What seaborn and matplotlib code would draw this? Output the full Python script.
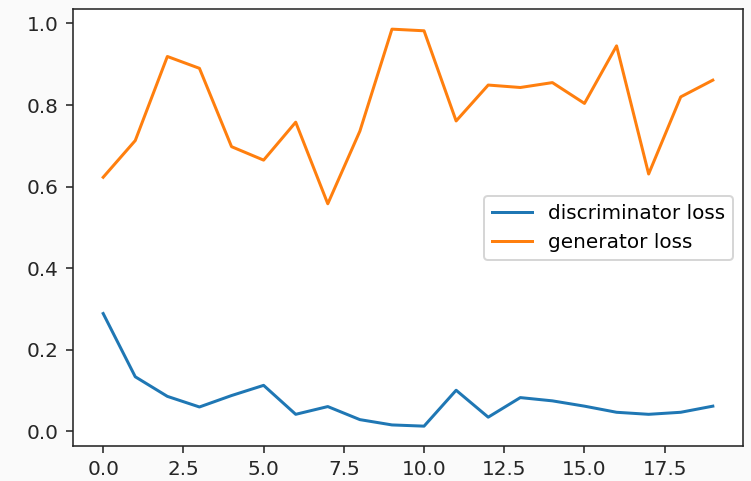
import numpy as np
import pandas as pd
import matplotlib
matplotlib.use("Agg")
import matplotlib.pyplot as plt
import seaborn as sns

epochs = list(range(20))
discriminator_loss = [0.289, 0.134, 0.086, 0.060, 0.088, 0.113, 0.042, 0.061, 0.029, 0.016,
                      0.013, 0.101, 0.035, 0.083, 0.075, 0.062, 0.047, 0.042, 0.047, 0.062]
generator_loss = [0.623, 0.713, 0.919, 0.890, 0.698, 0.665, 0.758, 0.558, 0.736, 0.986,
                  0.982, 0.761, 0.849, 0.843, 0.855, 0.804, 0.945, 0.631, 0.820, 0.861]
labels = ["discriminator loss", "generator loss"]

dpi = 144
fig = plt.figure(figsize=(751 / dpi, 481 / dpi), dpi=dpi, facecolor="#fafafa")
ax = fig.add_axes([72.7 / 751, 1 - 446 / 481, (743.3 - 72.7) / 751, (446 - 9.3) / 481])
ax.set_facecolor("white")

sns.lineplot(x=epochs, y=discriminator_loss, ax=ax, color="#1f77b4", label=labels[0], linewidth=1.5)
sns.lineplot(x=epochs, y=generator_loss, ax=ax, color="#ff7f0e", label=labels[1], linewidth=1.5)

ax.set_yticks([0.0, 0.2, 0.4, 0.6, 0.8, 1.0])
ax.set_xticks([0.0, 2.5, 5.0, 7.5, 10.0, 12.5, 15.0, 17.5])
ax.tick_params(labelsize=10, colors="#262626")
for s in ax.spines.values():
    s.set_edgecolor("#262626")
ax.legend(loc="center right", fontsize=10)

fig.savefig("out.png", dpi=dpi, facecolor=fig.get_facecolor())
